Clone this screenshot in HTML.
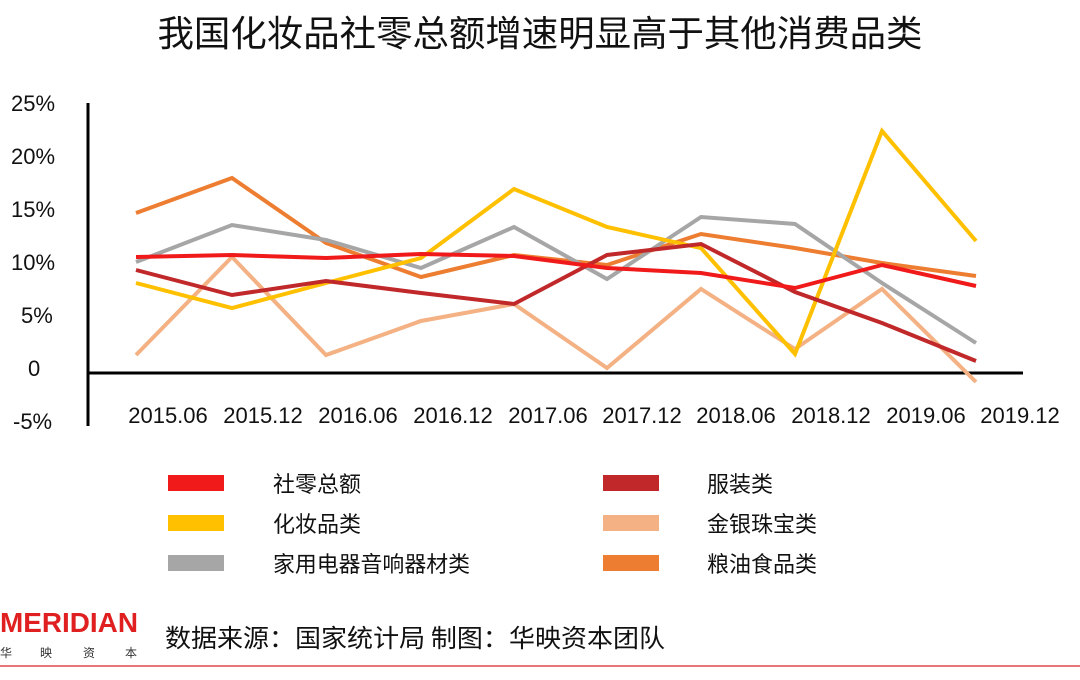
<!DOCTYPE html>
<html><head><meta charset="utf-8"><style>
body{margin:0;width:1080px;height:680px;background:#fff;overflow:hidden;font-family:"Liberation Sans","Noto Sans CJK SC",sans-serif}
</style></head><body>
<svg width="1080" height="680" xmlns="http://www.w3.org/2000/svg" style="position:absolute;left:0;top:0">
<text x="540" y="46" text-anchor="middle" font-size="36" fill="#111" font-family="Noto Sans CJK SC,sans-serif" textLength="765" lengthAdjust="spacingAndGlyphs">我国化妆品社零总额增速明显高于其他消费品类</text>
<g font-size="22" fill="#111" font-family="Liberation Sans,sans-serif">
<text x="11" y="111">25%</text><text x="11" y="164">20%</text><text x="11" y="217">15%</text><text x="11" y="270">10%</text><text x="21" y="323">5%</text><text x="28" y="376">0</text><text x="13" y="429">-5%</text>
</g>
<line x1="88" y1="103" x2="88" y2="426" stroke="#000" stroke-width="3"/>
<line x1="87" y1="373" x2="1023" y2="373" stroke="#000" stroke-width="3"/>
<g font-size="22" fill="#111" text-anchor="middle">
<text x="168" y="423">2015.06</text><text x="263" y="423">2015.12</text><text x="358" y="423">2016.06</text><text x="453" y="423">2016.12</text><text x="548" y="423">2017.06</text><text x="642" y="423">2017.12</text><text x="736" y="423">2018.06</text><text x="831" y="423">2018.12</text><text x="926" y="423">2019.06</text><text x="1020" y="423">2019.12</text>
</g>
<g fill="none" stroke-width="4" stroke-linejoin="miter">
<polyline stroke="#f4b183" points="136,355 232,257 326,355 421,321 514,304 607,368 701,289 795,349 882,289 976,382"/>
<polyline stroke="#ed7d31" points="136,213 232,178 326,243 421,277 514,255 607,265 701,234 795,248 882,263 976,276"/>
<polyline stroke="#a6a6a6" points="136,262 232,225 326,240 421,268 514,227 607,279 701,217 795,224 882,283 976,343"/>
<polyline stroke="#ffc000" points="136,283 232,308 326,283 421,258 514,189 607,227 701,248 795,354 882,131 976,241"/>
<polyline stroke="#c0282a" points="136,270 232,295 326,281 421,293 514,304 607,255 701,244 795,292 882,323 976,361"/>
<polyline stroke="#f01a1a" points="136,257 232,255 326,258 421,254 514,256 607,268 701,273 795,288 882,265 976,286"/>
</g>
<g>
<rect x="168" y="475" width="56" height="16" fill="#f01a1a"/>
<rect x="168" y="515" width="56" height="16" fill="#ffc000"/>
<rect x="168" y="555" width="56" height="16" fill="#a6a6a6"/>
<rect x="603" y="475" width="56" height="16" fill="#c0282a"/>
<rect x="603" y="515" width="56" height="16" fill="#f4b183"/>
<rect x="603" y="555" width="56" height="16" fill="#ed7d31"/>
</g>
<g font-size="22" fill="#111" font-family="Noto Sans CJK SC,sans-serif">
<text x="273" y="492">社零总额</text><text x="273" y="532">化妆品类</text><text x="273" y="572" textLength="197" lengthAdjust="spacingAndGlyphs">家用电器音响器材类</text>
<text x="707" y="492">服装类</text><text x="707" y="532">金银珠宝类</text><text x="707" y="572">粮油食品类</text>
<text x="165" y="647" font-size="25" textLength="500" lengthAdjust="spacingAndGlyphs">数据来源：国家统计局  制图：华映资本团队</text>
</g>
<text x="0" y="632" font-size="28" font-weight="bold" fill="#e02020" font-family="Liberation Sans,sans-serif" textLength="138" lengthAdjust="spacingAndGlyphs">MERIDIAN</text>
<g font-size="12" fill="#333" font-family="Noto Sans CJK SC,sans-serif"><text x="0" y="657">华</text><text x="40" y="657">映</text><text x="83" y="657">资</text><text x="125" y="657">本</text></g>
<line x1="0" y1="666" x2="1080" y2="666" stroke="#e04848" stroke-width="1.5"/>
</svg>
</body></html>
